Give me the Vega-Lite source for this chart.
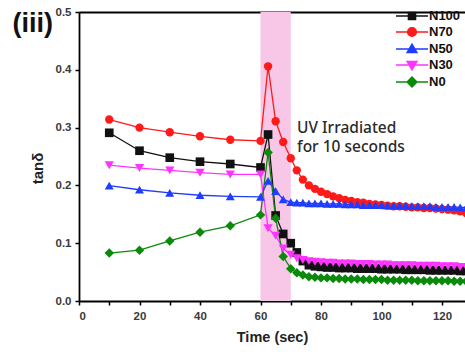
{
  "$schema": "https://vega.github.io/schema/vega-lite/v6.json",
  "width": 386,
  "height": 289,
  "autosize": {"type": "none"},
  "padding": {"left": 79, "top": 12, "right": 0, "bottom": 51},
  "background": "white",
  "config": {
    "view": {"stroke": null},
    "font": "Liberation Sans",
    "axis": {
      "grid": false,
      "domainColor": "#000000",
      "domainWidth": 1.8,
      "tickColor": "#000000",
      "tickWidth": 1.5,
      "tickSize": 4,
      "labelFont": "Liberation Sans",
      "labelFontWeight": "bold",
      "labelFontSize": 11.5,
      "labelColor": "#3a3a3a",
      "titleFont": "Liberation Sans",
      "titleFontWeight": "bold",
      "titleColor": "#222222"
    },
    "legend": {
      "orient": "none",
      "legendX": 324,
      "legendY": -5,
      "padding": 0,
      "rowPadding": 0,
      "labelFont": "Liberation Sans",
      "labelFontWeight": "bold",
      "labelFontSize": 13,
      "labelColor": "#111111",
      "labelOffset": 8,
      "symbolSize": 256
    }
  },
  "datasets": {
    "uv": [{"start": 60, "end": 70}],
    "tan": [
      {"s": "N100", "t": 10, "v": 0.291}, {"s": "N100", "t": 20, "v": 0.260}, {"s": "N100", "t": 30, "v": 0.248},
      {"s": "N100", "t": 40, "v": 0.241}, {"s": "N100", "t": 50, "v": 0.237}, {"s": "N100", "t": 60, "v": 0.231},
      {"s": "N100", "t": 62.5, "v": 0.288}, {"s": "N100", "t": 65, "v": 0.148}, {"s": "N100", "t": 67.5, "v": 0.116},
      {"s": "N100", "t": 70, "v": 0.100}, {"s": "N100", "t": 72, "v": 0.084}, {"s": "N100", "t": 74, "v": 0.069},
      {"s": "N100", "t": 76, "v": 0.062}, {"s": "N100", "t": 78, "v": 0.060}, {"s": "N100", "t": 80, "v": 0.059},
      {"s": "N100", "t": 82, "v": 0.058}, {"s": "N100", "t": 84, "v": 0.058}, {"s": "N100", "t": 86, "v": 0.057},
      {"s": "N100", "t": 88, "v": 0.057}, {"s": "N100", "t": 90, "v": 0.057}, {"s": "N100", "t": 92, "v": 0.056},
      {"s": "N100", "t": 94, "v": 0.056}, {"s": "N100", "t": 96, "v": 0.056}, {"s": "N100", "t": 98, "v": 0.056},
      {"s": "N100", "t": 100, "v": 0.055}, {"s": "N100", "t": 102, "v": 0.055}, {"s": "N100", "t": 104, "v": 0.055},
      {"s": "N100", "t": 106, "v": 0.055}, {"s": "N100", "t": 108, "v": 0.054}, {"s": "N100", "t": 110, "v": 0.054},
      {"s": "N100", "t": 112, "v": 0.054}, {"s": "N100", "t": 114, "v": 0.054}, {"s": "N100", "t": 116, "v": 0.053},
      {"s": "N100", "t": 118, "v": 0.053}, {"s": "N100", "t": 120, "v": 0.053}, {"s": "N100", "t": 122, "v": 0.053},
      {"s": "N100", "t": 124, "v": 0.053}, {"s": "N100", "t": 126, "v": 0.052}, {"s": "N100", "t": 128, "v": 0.052},

      {"s": "N70", "t": 10, "v": 0.314}, {"s": "N70", "t": 20, "v": 0.300}, {"s": "N70", "t": 30, "v": 0.292},
      {"s": "N70", "t": 40, "v": 0.285}, {"s": "N70", "t": 50, "v": 0.279}, {"s": "N70", "t": 60, "v": 0.277},
      {"s": "N70", "t": 62.5, "v": 0.406}, {"s": "N70", "t": 65, "v": 0.311}, {"s": "N70", "t": 67.5, "v": 0.275},
      {"s": "N70", "t": 70, "v": 0.247}, {"s": "N70", "t": 72, "v": 0.226}, {"s": "N70", "t": 74, "v": 0.210},
      {"s": "N70", "t": 76, "v": 0.200}, {"s": "N70", "t": 78, "v": 0.194}, {"s": "N70", "t": 80, "v": 0.189},
      {"s": "N70", "t": 82, "v": 0.185}, {"s": "N70", "t": 84, "v": 0.181}, {"s": "N70", "t": 86, "v": 0.178},
      {"s": "N70", "t": 88, "v": 0.175}, {"s": "N70", "t": 90, "v": 0.173}, {"s": "N70", "t": 92, "v": 0.171},
      {"s": "N70", "t": 94, "v": 0.170}, {"s": "N70", "t": 96, "v": 0.168}, {"s": "N70", "t": 98, "v": 0.167},
      {"s": "N70", "t": 100, "v": 0.166}, {"s": "N70", "t": 102, "v": 0.165}, {"s": "N70", "t": 104, "v": 0.164},
      {"s": "N70", "t": 106, "v": 0.164}, {"s": "N70", "t": 108, "v": 0.163}, {"s": "N70", "t": 110, "v": 0.162},
      {"s": "N70", "t": 112, "v": 0.162}, {"s": "N70", "t": 114, "v": 0.161}, {"s": "N70", "t": 116, "v": 0.161},
      {"s": "N70", "t": 118, "v": 0.160}, {"s": "N70", "t": 120, "v": 0.159}, {"s": "N70", "t": 122, "v": 0.158},
      {"s": "N70", "t": 124, "v": 0.157}, {"s": "N70", "t": 126, "v": 0.155}, {"s": "N70", "t": 128, "v": 0.152},

      {"s": "N50", "t": 10, "v": 0.1995}, {"s": "N50", "t": 20, "v": 0.1925}, {"s": "N50", "t": 30, "v": 0.187},
      {"s": "N50", "t": 40, "v": 0.183}, {"s": "N50", "t": 50, "v": 0.181}, {"s": "N50", "t": 60, "v": 0.180},
      {"s": "N50", "t": 62.5, "v": 0.208}, {"s": "N50", "t": 65, "v": 0.190}, {"s": "N50", "t": 67.5, "v": 0.176},
      {"s": "N50", "t": 70, "v": 0.171}, {"s": "N50", "t": 72, "v": 0.170}, {"s": "N50", "t": 74, "v": 0.170},
      {"s": "N50", "t": 76, "v": 0.169}, {"s": "N50", "t": 78, "v": 0.169}, {"s": "N50", "t": 80, "v": 0.169},
      {"s": "N50", "t": 82, "v": 0.168}, {"s": "N50", "t": 84, "v": 0.168}, {"s": "N50", "t": 86, "v": 0.168},
      {"s": "N50", "t": 88, "v": 0.167}, {"s": "N50", "t": 90, "v": 0.167}, {"s": "N50", "t": 92, "v": 0.167},
      {"s": "N50", "t": 94, "v": 0.166}, {"s": "N50", "t": 96, "v": 0.166}, {"s": "N50", "t": 98, "v": 0.166},
      {"s": "N50", "t": 100, "v": 0.166}, {"s": "N50", "t": 102, "v": 0.165}, {"s": "N50", "t": 104, "v": 0.165},
      {"s": "N50", "t": 106, "v": 0.165}, {"s": "N50", "t": 108, "v": 0.165}, {"s": "N50", "t": 110, "v": 0.164},
      {"s": "N50", "t": 112, "v": 0.164}, {"s": "N50", "t": 114, "v": 0.164}, {"s": "N50", "t": 116, "v": 0.164},
      {"s": "N50", "t": 118, "v": 0.163}, {"s": "N50", "t": 120, "v": 0.163}, {"s": "N50", "t": 122, "v": 0.163},
      {"s": "N50", "t": 124, "v": 0.163}, {"s": "N50", "t": 126, "v": 0.162}, {"s": "N50", "t": 128, "v": 0.162},

      {"s": "N30", "t": 10, "v": 0.235}, {"s": "N30", "t": 20, "v": 0.230}, {"s": "N30", "t": 30, "v": 0.226},
      {"s": "N30", "t": 40, "v": 0.222}, {"s": "N30", "t": 50, "v": 0.219}, {"s": "N30", "t": 60, "v": 0.219},
      {"s": "N30", "t": 62.5, "v": 0.126}, {"s": "N30", "t": 65, "v": 0.113}, {"s": "N30", "t": 67.5, "v": 0.091},
      {"s": "N30", "t": 70, "v": 0.080}, {"s": "N30", "t": 72, "v": 0.074}, {"s": "N30", "t": 74, "v": 0.071},
      {"s": "N30", "t": 76, "v": 0.069}, {"s": "N30", "t": 78, "v": 0.068}, {"s": "N30", "t": 80, "v": 0.067},
      {"s": "N30", "t": 82, "v": 0.066}, {"s": "N30", "t": 84, "v": 0.066}, {"s": "N30", "t": 86, "v": 0.065},
      {"s": "N30", "t": 88, "v": 0.065}, {"s": "N30", "t": 90, "v": 0.065}, {"s": "N30", "t": 92, "v": 0.064},
      {"s": "N30", "t": 94, "v": 0.064}, {"s": "N30", "t": 96, "v": 0.064}, {"s": "N30", "t": 98, "v": 0.063},
      {"s": "N30", "t": 100, "v": 0.063}, {"s": "N30", "t": 102, "v": 0.063}, {"s": "N30", "t": 104, "v": 0.062},
      {"s": "N30", "t": 106, "v": 0.062}, {"s": "N30", "t": 108, "v": 0.062}, {"s": "N30", "t": 110, "v": 0.062},
      {"s": "N30", "t": 112, "v": 0.061}, {"s": "N30", "t": 114, "v": 0.061}, {"s": "N30", "t": 116, "v": 0.061},
      {"s": "N30", "t": 118, "v": 0.061}, {"s": "N30", "t": 120, "v": 0.060}, {"s": "N30", "t": 122, "v": 0.060},
      {"s": "N30", "t": 124, "v": 0.060}, {"s": "N30", "t": 126, "v": 0.059}, {"s": "N30", "t": 128, "v": 0.059},

      {"s": "N0", "t": 10, "v": 0.083}, {"s": "N0", "t": 20, "v": 0.088}, {"s": "N0", "t": 30, "v": 0.104},
      {"s": "N0", "t": 40, "v": 0.119}, {"s": "N0", "t": 50, "v": 0.130}, {"s": "N0", "t": 60, "v": 0.149},
      {"s": "N0", "t": 62.5, "v": 0.257}, {"s": "N0", "t": 65, "v": 0.143}, {"s": "N0", "t": 67.5, "v": 0.077},
      {"s": "N0", "t": 70, "v": 0.056}, {"s": "N0", "t": 72, "v": 0.049}, {"s": "N0", "t": 74, "v": 0.045},
      {"s": "N0", "t": 76, "v": 0.042}, {"s": "N0", "t": 78, "v": 0.041}, {"s": "N0", "t": 80, "v": 0.040},
      {"s": "N0", "t": 82, "v": 0.040}, {"s": "N0", "t": 84, "v": 0.039}, {"s": "N0", "t": 86, "v": 0.039},
      {"s": "N0", "t": 88, "v": 0.038}, {"s": "N0", "t": 90, "v": 0.038}, {"s": "N0", "t": 92, "v": 0.038},
      {"s": "N0", "t": 94, "v": 0.037}, {"s": "N0", "t": 96, "v": 0.037}, {"s": "N0", "t": 98, "v": 0.037},
      {"s": "N0", "t": 100, "v": 0.037}, {"s": "N0", "t": 102, "v": 0.036}, {"s": "N0", "t": 104, "v": 0.036},
      {"s": "N0", "t": 106, "v": 0.036}, {"s": "N0", "t": 108, "v": 0.036}, {"s": "N0", "t": 110, "v": 0.036},
      {"s": "N0", "t": 112, "v": 0.035}, {"s": "N0", "t": 114, "v": 0.035}, {"s": "N0", "t": 116, "v": 0.035},
      {"s": "N0", "t": 118, "v": 0.035}, {"s": "N0", "t": 120, "v": 0.035}, {"s": "N0", "t": 122, "v": 0.035},
      {"s": "N0", "t": 124, "v": 0.034}, {"s": "N0", "t": 126, "v": 0.034}, {"s": "N0", "t": 128, "v": 0.034}
    ]
  },
  "resolve": {"axis": {"x": "independent"}},
  "layer": [
    {
      "data": {"name": "uv"},
      "mark": {"type": "rect", "color": "#f8c6e7", "opacity": 1},
      "encoding": {
        "x": {
          "field": "start", "type": "quantitative",
          "scale": {"domain": [0, 127.6], "nice": false, "zero": false},
          "axis": {"orient": "top", "labels": false, "ticks": false, "title": null}
        },
        "x2": {"field": "end"}
      }
    },
    {
      "data": {"name": "tan"},
      "mark": {"type": "line", "strokeWidth": 1.3, "clip": true},
      "encoding": {
        "x": {
          "field": "t", "type": "quantitative",
          "scale": {"domain": [0, 127.6], "nice": false, "zero": false},
          "axis": {
            "orient": "bottom",
            "values": [0, 10, 20, 30, 40, 50, 60, 70, 80, 90, 100, 110, 120],
            "labelExpr": "datum.value % 20 === 0 ? datum.label : ''",
            "labelPadding": 5,
            "title": "Time (sec)",
            "titleFontSize": 14.5,
            "titlePadding": 9
          }
        },
        "y": {
          "field": "v", "type": "quantitative",
          "scale": {"domain": [0, 0.5], "nice": false},
          "axis": {
            "values": [0, 0.05, 0.1, 0.15, 0.2, 0.25, 0.3, 0.35, 0.4, 0.45, 0.5],
            "format": ".1f",
            "labelExpr": "round(datum.value * 100) % 10 === 0 ? datum.label : ''",
            "labelPadding": 4,
            "title": "tanδ",
            "titleFontSize": 15,
            "titleAngle": -90,
            "titleBaseline": "alphabetic",
            "titleAlign": "center",
            "titleX": -37,
            "titleY": 156
          }
        },
        "color": {
          "field": "s", "type": "nominal",
          "scale": {
            "domain": ["N100", "N70", "N50", "N30", "N0"],
            "range": ["#111111", "#ff1a1a", "#1f3cff", "#ff33ff", "#0a8a0a"]
          },
          "legend": {
            "title": null,
            "encode": {
              "symbols": {
                "update": {
                  "shape": {"signal": "datum.value === 'N100' ? 'M-2,0H2M-0.45,-0.45H0.45V0.45H-0.45Z' : datum.value === 'N70' ? 'M-2,0H2M0.55,0A0.55,0.55 0 1,1 -0.55,0A0.55,0.55 0 1,1 0.55,0Z' : datum.value === 'N50' ? 'M-2,0H2M0,-0.6L0.62,0.45L-0.62,0.45Z' : datum.value === 'N30' ? 'M-2,0H2M0,0.6L0.62,-0.45L-0.62,-0.45Z' : 'M-2,0H2M0,-0.62L0.62,0L0,0.62L-0.62,0Z'"},
                  "stroke": {"signal": "scale('color', datum.value)"},
                  "fill": {"signal": "scale('color', datum.value)"},
                  "strokeWidth": {"value": 1.4},
                  "size": {"value": 256},
                  "opacity": {"value": 1}
                }
              }
            }
          }
        },
        "detail": {"field": "s"}
      }
    },
    {
      "data": {"name": "tan"},
      "mark": {"type": "point", "filled": true, "opacity": 1, "clip": true},
      "encoding": {
        "x": {"field": "t", "type": "quantitative", "axis": null},
        "y": {"field": "v", "type": "quantitative"},
        "color": {
          "field": "s", "type": "nominal",
          "scale": {
            "domain": ["N100", "N70", "N50", "N30", "N0"],
            "range": ["#111111", "#ff1a1a", "#1f3cff", "#ff33ff", "#0a8a0a"]
          }
        },
        "shape": {
          "field": "s", "type": "nominal",
          "scale": {
            "domain": ["N0", "N30", "N50", "N70", "N100"],
            "range": ["diamond", "triangle-down", "triangle-up", "circle", "square"]
          },
          "legend": null
        },
        "size": {
          "field": "s", "type": "nominal",
          "scale": {
            "domain": ["N0", "N30", "N50", "N100", "N70"],
            "range": [90, 70, 70, 60, 75]
          },
          "legend": null
        }
      }
    },
    {
      "data": {"values": [{"label": "UV Irradiated\nfor 10 seconds"}]},
      "mark": {
        "type": "text",
        "font": "Noto Sans",
        "fontSize": 15.5,
        "fontWeight": 500,
        "color": "#2a2a2a",
        "align": "left",
        "baseline": "alphabetic",
        "lineBreak": "\n",
        "lineHeight": 18.5
      },
      "encoding": {
        "text": {"field": "label"},
        "x": {"datum": 72.1, "type": "quantitative", "axis": null},
        "y": {"datum": 0.29, "type": "quantitative"}
      }
    },
    {
      "data": {"values": [{"label": "(iii)"}]},
      "mark": {
        "type": "text",
        "font": "Liberation Sans",
        "fontSize": 27,
        "fontWeight": "bold",
        "color": "#111111",
        "align": "right",
        "baseline": "alphabetic"
      },
      "encoding": {
        "text": {"field": "label"},
        "x": {"datum": -8.6, "type": "quantitative", "axis": null},
        "y": {"datum": 0.465, "type": "quantitative"}
      }
    }
  ]
}
